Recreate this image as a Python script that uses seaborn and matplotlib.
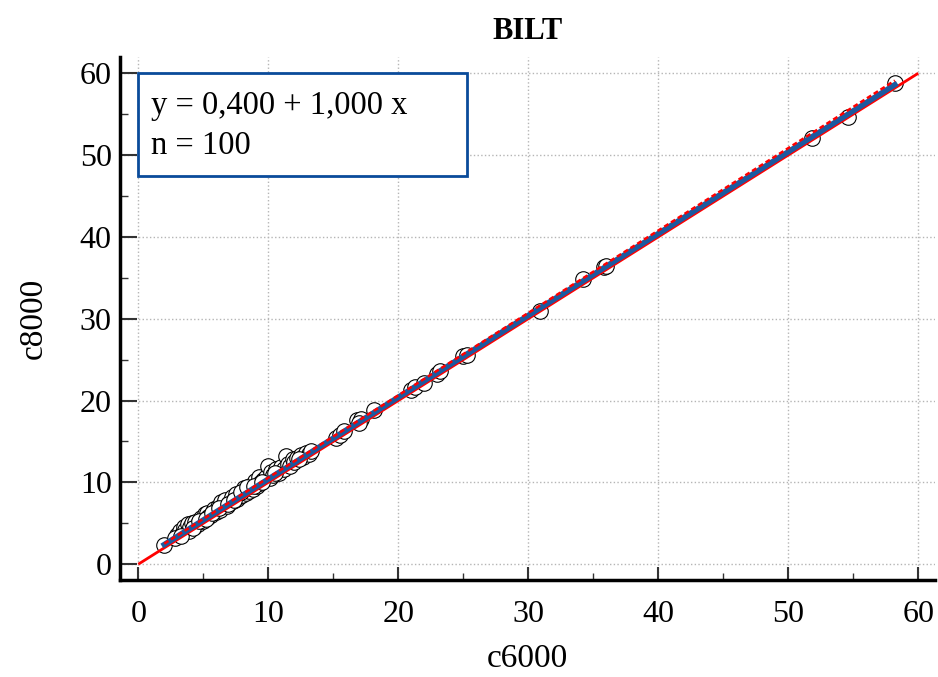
import matplotlib
matplotlib.use("Agg")
import matplotlib.pyplot as plt
import seaborn as sns
import numpy as np
import pandas as pd
from matplotlib.patches import Rectangle
from matplotlib.ticker import MultipleLocator

# ---- data ----
c6000 = [2.0, 3.0, 3.2, 3.4, 3.5, 3.6, 3.8, 3.9, 4.0, 4.1, 4.3, 4.4, 4.6, 4.8, 5.0, 5.1,
         5.3, 5.4, 5.6, 5.8, 6.0, 6.1, 6.3, 6.4, 6.5, 6.7, 6.8, 7.0, 7.2, 7.3, 7.5, 7.6,
         7.8, 8.0, 8.1, 8.3, 8.5, 8.6, 8.8, 9.0, 9.1, 9.3, 9.4, 9.6, 9.8, 10.0, 10.1, 10.2,
         10.4, 10.6, 10.8, 11.0, 11.2, 11.4, 11.5, 11.7, 11.9, 12.0, 12.2, 12.5, 12.7, 12.9,
         13.1, 13.3,
         2.8, 3.3, 4.2, 4.7, 5.2, 5.7, 6.2, 6.9, 7.4, 7.9, 8.4, 8.9, 9.5, 10.5, 12.4,
         15.2, 15.5, 15.8, 16.8, 17.1, 17.0, 18.1, 21.0, 21.3, 22.0, 23.0, 23.2, 25.0, 25.3,
         30.9, 34.2, 35.8, 36.0, 51.8, 54.6, 58.2]
c8000 = [2.3, 3.6, 4.0, 3.7, 4.5, 4.2, 4.9, 4.1, 4.6, 5.0, 4.5, 5.1, 4.9, 5.6, 5.3, 6.1,
         6.3, 5.8, 6.0, 6.7, 6.4, 7.0, 6.6, 7.6, 7.2, 7.9, 7.1, 7.5, 8.2, 7.7, 8.6, 8.0,
         8.3, 8.5, 9.3, 8.7, 9.0, 9.6, 9.2, 10.2, 9.6, 10.7, 9.9, 10.3, 10.6, 12.0, 10.5, 11.3,
         10.9, 11.6, 11.1, 11.9, 11.6, 13.2, 12.3, 12.0, 12.8, 12.5, 13.0, 13.4, 13.1, 13.6,
         13.5, 13.8,
         3.2, 3.5, 4.4, 5.3, 5.5, 6.2, 6.9, 7.4, 7.9, 8.8, 9.4, 9.5, 10.1, 11.2, 12.9,
         15.4, 15.8, 16.3, 17.6, 17.8, 17.2, 18.8, 21.3, 21.6, 22.2, 23.3, 23.6, 25.4, 25.6,
         31.0, 34.8, 36.3, 36.5, 52.1, 54.6, 58.8]

fit_intercept = 0.400
fit_slope = 1.000
ci_intercept = 0.50
ci_slope = 1.007
identity_range = [0, 60]

title = "BILT"
xlabel = "c6000"
ylabel = "c8000"
legend_lines = ["y = 0,400 + 1,000 x", "n = 100"]

# ---- figure ----
sns.set_style("white")
plt.rcParams['font.family'] = ['Liberation Serif', 'DejaVu Serif']
plt.rcParams['text.color'] = 'black'
plt.rcParams['axes.labelcolor'] = 'black'
plt.rcParams['xtick.labelcolor'] = 'black'
plt.rcParams['ytick.labelcolor'] = 'black'

fig = plt.figure(figsize=(9.38, 6.77), dpi=100)
ax = fig.add_axes([0.128, 0.143, 0.869, 0.773])

df = pd.DataFrame({"c6000": c6000, "c8000": c8000})
sns.scatterplot(data=df, x="c6000", y="c8000", ax=ax, s=125, facecolor="white",
                edgecolor="black", linewidth=0.8, zorder=3)

xi = np.array(identity_range, dtype=float)
ax.plot(xi, xi, color="#ff0000", linewidth=2.0, zorder=4, solid_capstyle="butt")

xf = np.array([min(c6000), max(c6000)])
ax.plot(xf, fit_intercept + fit_slope * xf, color="#1c5aa0",
        linewidth=4.0, zorder=5, solid_capstyle="projecting")
ax.plot(xf, ci_intercept + ci_slope * xf, color="#ff0000",
        linewidth=1.8, linestyle=(0, (2, 1.2)), zorder=6)

ax.set_xlim(-1.4, 61.3)
ax.set_ylim(-1.95, 62.0)
ax.xaxis.set_major_locator(MultipleLocator(10))
ax.yaxis.set_major_locator(MultipleLocator(10))
ax.xaxis.set_minor_locator(MultipleLocator(5))
ax.yaxis.set_minor_locator(MultipleLocator(5))

ax.grid(True, which="major", color="#b5b5b5", linestyle=":", linewidth=1.0, zorder=0)
ax.set_axisbelow(True)

for s in ["top", "right"]:
    ax.spines[s].set_visible(False)
for s in ["left", "bottom"]:
    ax.spines[s].set_linewidth(2.5)
    ax.spines[s].set_color("black")

ax.tick_params(axis="x", which="major", direction="in", length=9.5, width=1.5,
               color="#333333", labelsize=23, pad=14, bottom=True)
ax.tick_params(axis="x", which="minor", direction="in", length=5, width=1.0,
               color="#333333", bottom=True)
ax.tick_params(axis="y", which="major", direction="in", length=12.5, width=1.5,
               color="#333333", labelsize=23, pad=6, left=True)
ax.tick_params(axis="y", which="minor", direction="in", length=6, width=1.0,
               color="#333333", left=True)

ax.set_xlabel(xlabel, fontsize=24, labelpad=11)
ax.set_ylabel(ylabel, fontsize=24, labelpad=22)
ax.set_title(title, fontsize=22, fontweight="bold", pad=13)

# legend box
ax.add_patch(Rectangle((0.0, 47.5), 25.3, 12.5, facecolor="white", edgecolor="#0a4b9a",
                       linewidth=2.0, zorder=8))
ax.text(0.95, 56.0, legend_lines[0], fontsize=23.5, va="center", ha="left", zorder=9)
ax.text(0.95, 51.1, legend_lines[1], fontsize=23.5, va="center", ha="left", zorder=9)

fig.savefig("out.png", dpi=100)
